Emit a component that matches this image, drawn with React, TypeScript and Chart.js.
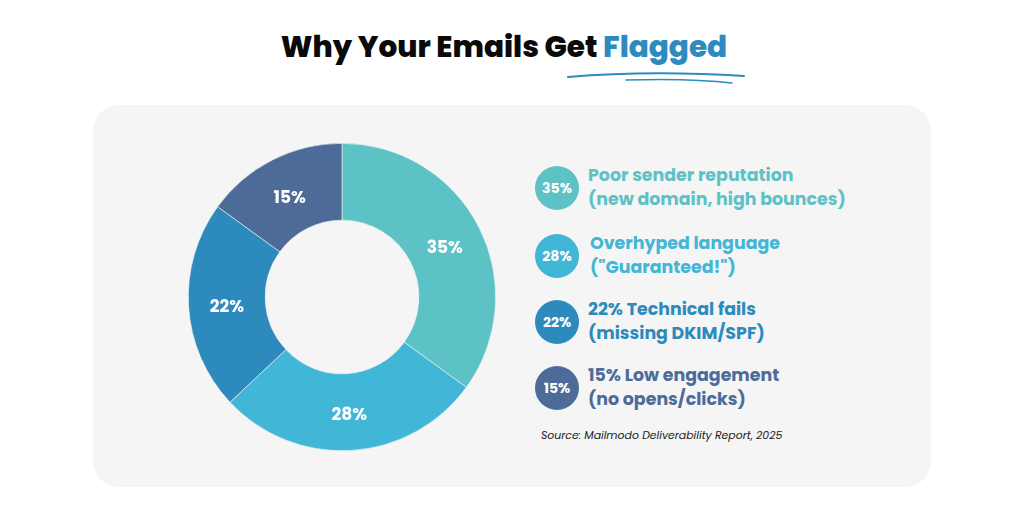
import React, { useEffect, useRef } from "react";
import { Chart, registerables } from "chart.js";

Chart.register(...registerables);

const categories = ["Poor sender reputation", "Overhyped language", "Technical fails", "Low engagement"];
const values = [35, 28, 22, 15];
const colors = ["#5cc2c6", "#41b6d6", "#2c8abc", "#4d6b98"];
const legendLine1 = ["Poor sender reputation", "Overhyped language", "22% Technical fails", "15% Low engagement"];
const legendLine2 = ["(new domain, high bounces)", "(\"Guaranteed!\")", "(missing DKIM/SPF)", "(no opens/clicks)"];
const legendTops = [163, 231, 297, 363];
const legendLefts = [588, 590, 588, 588];
const titleMain = "Why Your Emails Get ";
const titleAccent = "Flagged";
const sourceText = "Source: Mailmodo Deliverability Report, 2025";

const FONT = "Poppins, Inter, 'Open Sans', sans-serif";

const sliceLabels = {
  id: "sliceLabels",
  afterDatasetsDraw(chart: any) {
    const ctx = chart.ctx;
    const meta = chart.getDatasetMeta(0);
    ctx.save();
    ctx.fillStyle = "#ffffff";
    ctx.font = `700 17px ${FONT}`;
    ctx.textAlign = "center";
    ctx.textBaseline = "middle";
    meta.data.forEach((arc: any, i: number) => {
      const p = arc.getCenterPoint();
      ctx.fillText(values[i] + "%", p.x, p.y + 4);
    });
    ctx.restore();
  },
};

function Donut() {
  const ref = useRef<HTMLCanvasElement | null>(null);
  useEffect(() => {
    if (!ref.current) return;
    const chart = new Chart(ref.current, {
      type: "doughnut",
      data: {
        labels: categories,
        datasets: [
          {
            data: values,
            backgroundColor: colors,
            borderColor: "#f5f5f5",
            borderWidth: 0.6,
          },
        ],
      },
      options: {
        animation: false,
        responsive: true,
        maintainAspectRatio: false,
        cutout: "50%",
        layout: { padding: 6 },
        plugins: { legend: { display: false }, tooltip: { enabled: false } },
      },
      plugins: [sliceLabels],
    });
    return () => chart.destroy();
  }, []);
  return <canvas ref={ref} />;
}

export default function App() {
  useEffect(() => {
    document.body.style.margin = "0";
  }, []);
  return (
    <div style={{ position: "relative", width: 1024, height: 512, background: "#ffffff", overflow: "hidden", fontFamily: FONT }}>
      <div
        style={{
          position: "absolute",
          left: -8,
          width: 1024,
          top: 27,
          textAlign: "center",
          fontSize: 29.5,
          fontWeight: 800,
          color: "#0a0a0a",
          lineHeight: "40px",
          whiteSpace: "nowrap",
        }}
      >
        {titleMain}
        <span style={{ color: "#2d8bc0" }}>{titleAccent}</span>
      </div>
      <svg style={{ position: "absolute", left: 0, top: 0 }} width={1024} height={512}>
        <path d="M568 77 Q 650 70 744 76" stroke="#2d8bc0" strokeWidth={2} fill="none" strokeLinecap="round" />
        <path d="M626 80 Q 690 78 732 83" stroke="#2d8bc0" strokeWidth={1.5} fill="none" strokeLinecap="round" />
      </svg>
      <div
        style={{
          position: "absolute",
          left: 93,
          top: 105,
          width: 838,
          height: 382,
          background: "#f5f5f5",
          borderRadius: 26,
        }}
      />
      <div style={{ position: "absolute", left: 181.5, top: 137, width: 320, height: 320 }}>
        <Donut />
      </div>
      {categories.map((c, i) => (
        <React.Fragment key={c}>
          <div
            style={{
              position: "absolute",
              left: 535,
              top: legendTops[i] + 3,
              width: 44,
              height: 44,
              borderRadius: 22,
              background: colors[i],
              color: "#fff",
              fontSize: 14,
              fontWeight: 700,
              display: "flex",
              alignItems: "center",
              justifyContent: "center",
            }}
          >
            {values[i]}%
          </div>
          <div
            style={{
              position: "absolute",
              left: legendLefts[i],
              top: legendTops[i],
              whiteSpace: "nowrap",
              color: colors[i],
              fontSize: 17.4,
              fontWeight: 700,
              lineHeight: "24px",
            }}
          >
            <div>{legendLine1[i]}</div>
            <div>{legendLine2[i]}</div>
          </div>
        </React.Fragment>
      ))}
      <div
        style={{
          position: "absolute",
          left: 541,
          top: 428,
          fontSize: 10.9,
          fontStyle: "italic",
          color: "#222",
          whiteSpace: "nowrap",
        }}
      >
        {sourceText}
      </div>
    </div>
  );
}
